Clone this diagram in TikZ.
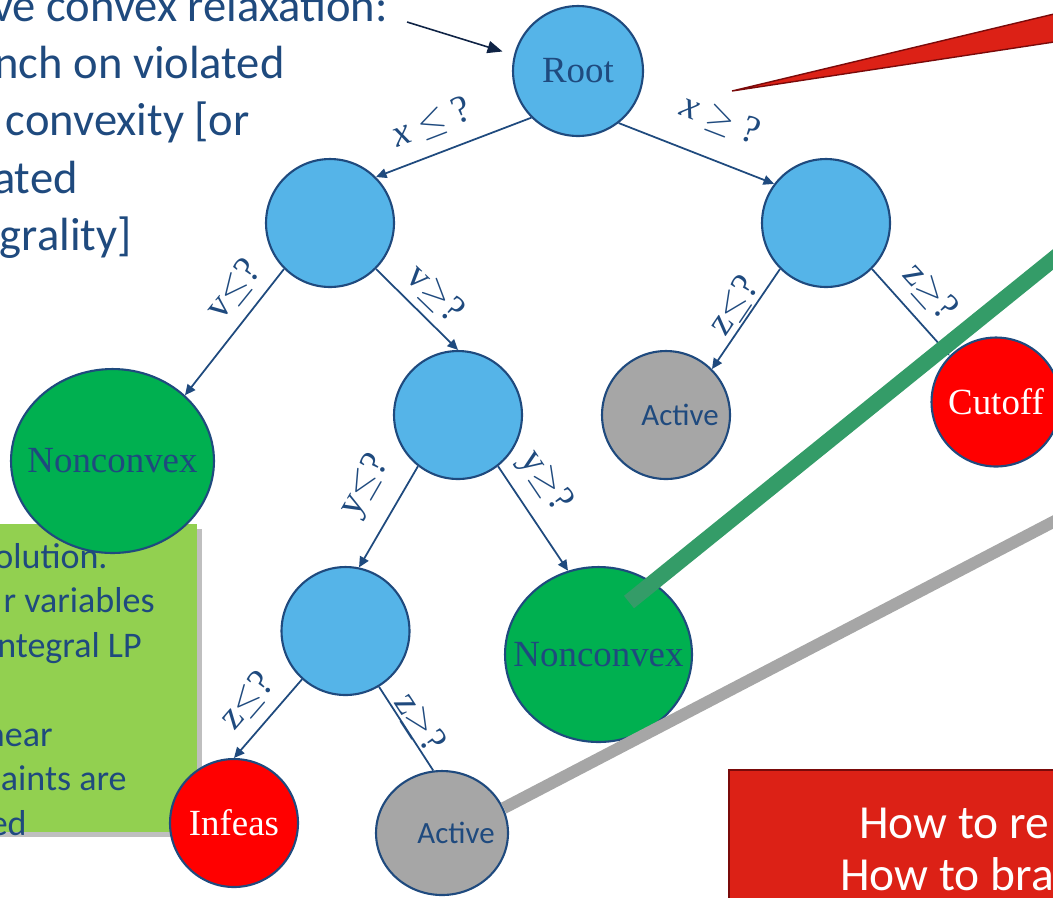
\documentclass[tikz,border=0pt]{standalone}
\usepackage{fontspec}
\setmainfont{Liberation Serif}
\newfontfamily\calibri{Carlito}
\usetikzlibrary{arrows.meta}
\usetikzlibrary{shapes.geometric}
\usetikzlibrary{shadows}

\definecolor{navy}{HTML}{1F4A7E}
\definecolor{darknavy}{HTML}{0F2345}
\definecolor{skyblue}{HTML}{55B4E8}
\definecolor{leafgreen}{HTML}{00B050}
\definecolor{boxgreen}{HTML}{92D050}
\definecolor{callred}{HTML}{DC2116}
\definecolor{edgered}{HTML}{7A0A0A}
\definecolor{bandgreen}{HTML}{349C68}
\definecolor{bandgrey}{HTML}{A6A6A6}

\begin{document}
\begin{tikzpicture}[x=0.02cm,y=-0.02cm,
    bnode/.style={circle,draw=navy,line width=1.2pt,fill=skyblue,minimum size=2.56cm,inner sep=0pt,text=navy,font=\fontsize{21}{21}\selectfont},
    nonconv/.style={ellipse,draw=navy,line width=1.2pt,fill=leafgreen,inner sep=0pt,text=navy,font=\fontsize{21}{21}\selectfont},
    redleaf/.style={bnode,fill=red,text=white},
    greyleaf/.style={bnode,fill=bandgrey,font=\calibri\fontsize{17.6}{17.6}\selectfont},
    branch/.style={draw=navy,line width=1pt,-{Triangle[length=6pt,width=5.5pt]}},
    cond/.style={text=navy,inner sep=0pt,font=\fontsize{22}{22}\selectfont},
    pointer/.style={draw=darknavy,line width=0.9pt,-{Triangle[length=8.5pt,width=7pt]},shorten >=0.24cm},
    intro/.style={anchor=base east,inner sep=0pt,text=navy,font=\calibri\fontsize{26.5}{26.5}\selectfont},
    notebox/.style={rectangle,fill=boxgreen,minimum width=4.34cm,minimum height=6.16cm,inner sep=0pt,
        drop shadow={shadow xshift=0.1cm,shadow yshift=-0.1cm,fill=black,opacity=0.25}},
    notetext/.style={anchor=base east,inner sep=0pt,text=navy,font=\calibri\fontsize{20.5}{20.5}\selectfont},
    asktext/.style={anchor=base west,inner sep=0pt,text=white,font=\calibri\fontsize{27}{27}\selectfont}]

    \useasboundingbox (0,0) rectangle (1053,897);
    \clip (0,0) rectangle (1053,897);

    % green note, cut at the left edge
    \node[notebox] (inc) at (88.5,678) {};
    \node[notetext] (inc1) at (108,568) {olution.};
    \node[notetext] (inc2) at (155,612) {r variables};
    \node[notetext] (inc3) at (142,657) {ntegral LP};
    \node[notetext] (inc4) at (53,746) {near};
    \node[notetext] (inc5) at (127,790) {aints are};
    \node[notetext] (inc6) at (27,835) {ed};

    % red callout, cut at the right edge
    \filldraw[fill=callred,draw=edgered,line width=0.8pt] (732,91) -- (1100,3) -- (1100,35) -- cycle;
    \filldraw[fill=callred,draw=edgered,line width=1.5pt] (729,770) rectangle (1120,960);
    \node[asktext] (ask1) at (859,838) {How to re};
    \node[asktext] (ask2) at (840,890) {How to bra};

    % text at the top left
    \node[intro] (intro1) at (388,21) {ve convex relaxation:};
    \node[intro] (intro2) at (285,78) {nch on violated};
    \node[intro] (intro3) at (250,135) {convexity [or};
    \node[intro] (intro4) at (78,193) {ated};
    \node[intro] (intro5) at (132,250) {grality]};

    % the tree
    \node[bnode,minimum size=2.6cm] (root) at (578,71) {Root};
    \node[bnode] (l1) at (330,223) {};
    \node[bnode] (r1) at (826,223) {};
    \node[nonconv,minimum width=4.06cm,minimum height=3.68cm] (nc1) at (112.5,461) {\makebox[0pt]{Nonconvex}};
    \node[bnode] (l2) at (458,415) {};
    \node[greyleaf] (act1) at (666,415) {\makebox[0pt]{\hspace{0.56cm}Active}};
    \node[redleaf,minimum size=2.58cm] (cut) at (996,402) {Cutoff};
    \node[bnode] (l3) at (345.5,631) {};
    \node[nonconv,minimum width=3.74cm,minimum height=3.5cm] (nc2) at (598.5,654.5) {\makebox[0pt]{Nonconvex}};
    \node[redleaf] (inf) at (234,823) {Infeas};
    \node[greyleaf,ellipse,minimum width=2.64cm,minimum height=2.48cm] (act2) at (442,833) {\makebox[0pt]{\hspace{0.56cm}Active}};

    \draw[branch] (root.south west) -- (l1.north east);
    \draw[branch] (root.-52) -- (r1.143);
    \draw[branch] (l1.south west) -- (nc1.north east);
    \draw[branch] (l1.south east) -- (l2.north);
    \draw[branch] (r1.south west) -- (act1.north east);
    \draw[branch] (r1.south east) -- (cut.north west);
    \draw[branch] (l2.-128) -- (l3.78);
    \draw[branch] (l2.-52) -- (nc2.110);
    \draw[branch] (l3.-132) -- (inf.north);
    \draw[navy,line width=1pt] (l3.-59) -- (act2.98);

    \node[cond,rotate=21] (lx1) at (432,123) {\textit{x} $\leq$ ?};
    \node[cond,rotate=-21] (lx2) at (720,120) {\textit{x} $\geq$ ?};
    \node[cond,rotate=51] (lv1) at (234,290) {v$\leq$?};
    \node[cond,rotate=-44] (lv2) at (435,294) {v$\geq$?};
    \node[cond,rotate=60] (ly1) at (365,486) {y$\leq$?};
    \node[cond,rotate=-56] (ly2) at (545,482) {y$\geq$?};
    \node[cond,rotate=56] (lz1) at (734,306) {z$\leq$?};
    \node[cond,rotate=-48] (lz2) at (930,292) {z$\geq$?};
    \node[cond,rotate=49] (lz3) at (247,701) {z$\leq$?};
    \node[cond,rotate=-57] (lz4) at (419,723) {z$\geq$?};

    \coordinate (note) at (407,22);
    \draw[pointer] (note) -- (root.166);

    % pointer bands from the callouts
    \coordinate (gtip) at (629,602);
    \coordinate (gfar) at (1100,221.5);
    \coordinate (yfar) at (1100,497.5);
    \draw[bandgreen,line width=0.32cm] (gtip) -- (gfar);
    \draw[bandgrey,line width=0.24cm] (act2.22) -- (yfar);
\end{tikzpicture}
\end{document}
